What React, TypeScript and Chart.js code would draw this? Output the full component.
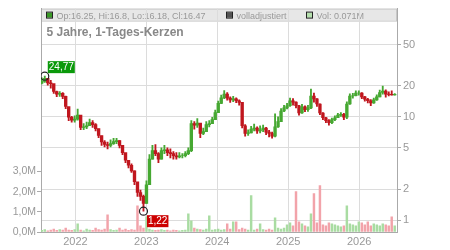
import React, { useEffect, useRef } from "react";
import { Chart, registerables } from "chart.js";

Chart.register(...registerables);

// ---- data (semi-monthly candles) ----
const firstCandleDate = "2021-07-12";
const candleStepDays = 15.4;
const firstOpen = 21.2;

const closes = [
  22.0, 23.6, 21.3, 21.0, 17.6, 16.6, 16.9, 15.8, 12.6, 9.9,
  9.3, 9.5, 10.4, 7.9, 8.0, 8.2, 8.8, 8.4, 7.7, 6.6,
  5.7, 5.4, 5.3, 5.5, 5.75, 5.9, 5.3, 4.5, 3.8, 3.4,
  3.0, 2.35, 1.85, 1.7, 1.45, 2.2, 3.9, 4.7, 4.4, 3.9,
  4.7, 4.8, 4.5, 4.4, 4.2, 4.1, 4.2, 4.2, 4.4, 4.7,
  8.6, 8.3, 8.7, 6.9, 7.2, 8.4, 8.6, 9.4, 11.0, 13.5,
  15.3, 16.6, 15.2, 14.6, 14.9, 14.3, 13.8, 8.2, 6.9, 7.0,
  7.6, 7.8, 7.3, 7.5, 7.8, 7.1, 6.9, 6.5, 8.0, 9.0,
  11.4, 12.2, 12.8, 14.3, 13.9, 12.8, 10.9, 12.5, 11.7, 12.2,
  15.9, 14.9, 13.3, 10.9, 9.8, 9.2, 8.8, 9.4, 9.8, 10.4,
  10.6, 9.9, 13.3, 15.9, 16.0, 17.0, 17.0, 15.6, 14.8, 14.3,
  13.6, 14.6, 15.6, 17.2, 17.8, 16.6, 16.5, 16.3, 16.47,
];

const highs = [
  23.8, 24.77, 23.5, 22.6, 19.5, 17.8, 17.6, 17.2, 15.9, 12.3,
  10.1, 10.2, 11.9, 9.6, 8.6, 8.9, 9.5, 9.2, 8.6, 7.6,
  6.5, 5.9, 5.7, 6.0, 6.2, 6.2, 5.9, 5.3, 4.4, 3.8,
  3.5, 3.0, 2.3, 1.95, 1.75, 2.4, 4.3, 5.3, 5.4, 4.5,
  5.0, 5.3, 5.0, 4.9, 4.6, 4.5, 4.5, 4.4, 4.6, 5.0,
  9.2, 9.0, 9.6, 8.5, 7.8, 9.0, 9.2, 9.9, 11.6, 14.2,
  16.2, 18.0, 17.2, 15.6, 15.8, 15.3, 14.6, 13.8, 8.4, 7.5,
  8.1, 8.5, 8.0, 8.2, 8.3, 7.9, 7.4, 7.1, 10.7, 10.0,
  12.0, 12.9, 13.5, 15.2, 15.0, 14.0, 12.9, 13.2, 12.8, 12.9,
  18.6, 17.0, 15.0, 13.4, 11.0, 9.9, 9.4, 9.7, 10.2, 10.8,
  11.0, 10.8, 14.0, 16.7, 16.9, 17.9, 17.9, 17.2, 15.8, 15.1,
  14.7, 15.2, 16.3, 18.2, 19.9, 18.3, 17.5, 17.9, 16.8,
];

const lows = [
  20.8, 21.5, 20.3, 19.0, 16.9, 15.7, 15.8, 15.0, 12.0, 9.2,
  8.9, 8.9, 9.3, 7.5, 7.5, 7.7, 8.2, 7.9, 7.3, 6.3,
  5.3, 5.1, 4.9, 5.1, 5.4, 5.5, 5.0, 4.3, 3.6, 3.2,
  2.9, 2.2, 1.7, 1.55, 1.22, 1.45, 2.3, 3.9, 4.2, 3.6,
  3.9, 4.4, 4.2, 4.0, 3.9, 3.9, 4.0, 4.0, 4.1, 4.3,
  4.6, 7.6, 7.9, 6.3, 6.7, 7.3, 8.0, 8.6, 9.5, 11.0,
  13.4, 15.0, 14.5, 13.8, 14.0, 13.7, 13.0, 7.8, 6.5, 6.6,
  7.0, 7.3, 6.9, 7.0, 7.2, 6.7, 6.4, 6.2, 6.4, 7.9,
  9.0, 11.2, 11.9, 12.6, 13.0, 12.2, 10.4, 10.8, 11.2, 11.3,
  12.0, 13.9, 12.6, 10.5, 9.4, 8.8, 8.3, 8.6, 9.2, 9.8,
  10.1, 9.4, 9.6, 13.2, 15.2, 15.9, 16.2, 15.0, 14.2, 13.6,
  12.8, 13.5, 14.4, 15.6, 16.6, 15.5, 15.9, 16.2, 16.18,
];

// volume in millions
const volumes = [
  0.08, 0.12, 0.06, 0.1, 0.15, 0.08, 0.12, 0.1, 0.2, 0.1,
  0.08, 0.12, 0.4, 0.1, 0.06, 0.15, 0.1, 0.08, 0.2, 0.12,
  0.1, 0.15, 0.85, 0.12, 0.08, 0.1, 0.2, 0.1, 0.15, 0.08,
  0.12, 0.1, 1.3, 0.3, 0.2, 0.75, 0.15, 0.1, 0.08, 0.1,
  0.12, 0.08, 0.1, 0.06, 0.1, 0.08, 0.06, 0.08, 0.1, 0.9,
  0.55, 0.2, 0.15, 0.12, 0.1, 0.15, 0.8, 0.1, 0.12, 0.15,
  0.1, 0.12, 0.4, 0.15, 0.5, 0.5, 0.12, 0.2, 0.15, 0.1,
  1.8, 0.1, 0.15, 0.4, 0.12, 0.1, 0.15, 0.1, 0.7, 0.2,
  0.15, 0.2, 0.35, 0.45, 0.3, 2.0, 0.5, 0.4, 0.3, 0.25,
  0.9, 1.9, 0.45, 2.3, 0.35, 0.3, 0.45, 0.4, 0.35, 0.3,
  0.25, 0.3, 1.3, 0.4, 0.35, 0.3, 0.5, 0.45, 0.35, 0.5,
  0.3, 0.4, 0.35, 0.3, 0.4, 0.35, 0.3, 0.75, 0.3,
];

const priceTicks = [1, 2, 5, 10, 20, 50];
const volumeTicks = [0, 1, 2, 3];
const yearTicks = [2022, 2023, 2024, 2025, 2026];
const axisStart = "2021-07-08";
const axisEnd = "2026-07-15";
const priceMin = 0.767;
const priceMax = 111.7;
const volumeMax = 11.07;

const titleText = "5 Jahre, 1-Tages-Kerzen";
const legendQuote = "Op:16.25, Hi:16.8, Lo:16.18, Cl:16.47";
const legendAdjusted = "volladjustiert";
const legendVolume = "Vol: 0.071M";

// ---- helpers ----
const DAY = 86400000;
const toDay = (s: string) => Date.parse(s + "T00:00:00Z") / DAY;
const dates = closes.map((_, i) => toDay(firstCandleDate) + i * candleStepDays);
const opens = closes.map((_, i) => (i === 0 ? firstOpen : closes[i - 1]));
const isUp = closes.map((c, i) => c >= opens[i]);

const UP = "#46a832";
const DOWN = "#c0161e";
const VOL_UP = "#a9dca2";
const VOL_DOWN = "#f2a3aa";
const FONT = "'Liberation Sans', Arial, sans-serif";

const fmtComma = (v: number) => v.toFixed(2).replace(".", ",");

export default function App() {
  const ref = useRef<HTMLCanvasElement | null>(null);

  useEffect(() => {
    if (!ref.current) return;
    let iMax = 0;
    let iMin = 0;
    highs.forEach((h, i) => { if (h > highs[iMax]) iMax = i; });
    lows.forEach((l, i) => { if (l < lows[iMin]) iMin = i; });

    const overlay = {
      id: "overlay",
      beforeDraw(chart: any) {
        const { ctx, chartArea: a } = chart;
        ctx.save();
        ctx.fillStyle = "#e7e7e7";
        ctx.fillRect(a.left, a.top, a.right - a.left, 12);
        ctx.strokeStyle = "#c8c8c8";
        ctx.lineWidth = 1;
        ctx.strokeRect(a.left + 0.5, a.top + 0.5, a.right - a.left - 1, 12);
        const items: [number, string, string][] = [
          [6, "#3a9a26", legendQuote],
          [186, "#555555", legendAdjusted],
          [266, "#b5e0ad", legendVolume],
        ];
        ctx.font = `9px ${FONT}`;
        ctx.textBaseline = "alphabetic";
        for (const [off, col, txt] of items) {
          const x = a.left + off;
          ctx.fillStyle = col;
          ctx.fillRect(x, a.top + 4, 5, 5);
          ctx.strokeStyle = "#222";
          ctx.strokeRect(x - 0.5, a.top + 3.5, 6, 6);
          ctx.fillStyle = "#999";
          ctx.fillText(txt, x + 9.5, a.top + 10.5);
        }
        ctx.restore();
      },
      afterDatasetsDraw(chart: any) {
        const { ctx } = chart;
        const xs = chart.scales.x;
        const ys = chart.scales.y;
        ctx.save();
        ctx.font = `10px ${FONT}`;
        ctx.textBaseline = "middle";
        const box = (px: number, top: number, txt: string, col: string) => {
          const w = ctx.measureText(txt).width + 2;
          ctx.fillStyle = col;
          ctx.fillRect(px, top, w, 12);
          ctx.fillStyle = "#fff";
          ctx.fillText(txt, px + 1, top + 6.5);
        };
        const mx = xs.getPixelForValue(dates[iMax]);
        const my = ys.getPixelForValue(highs[iMax]);
        box(mx + 3, my - 15, fmtComma(highs[iMax]), "#0a990a");
        const nx = xs.getPixelForValue(dates[iMin]);
        const ny = ys.getPixelForValue(lows[iMin]);
        box(nx + 3.5, ny + 4, fmtComma(lows[iMin]), "#cc0000");
        ctx.restore();
      },
      afterDraw(chart: any) {
        const { ctx, chartArea: a } = chart;
        ctx.save();
        ctx.font = `bold 12px ${FONT}`;
        ctx.fillStyle = "#888";
        ctx.textBaseline = "alphabetic";
        ctx.fillText(titleText, a.left + 5.5, a.top + 27);
        ctx.restore();
      },
    };

    const candleColors = isUp.map((u) => (u ? UP : DOWN));

    const chart = new Chart(ref.current, {
      type: "bar",
      data: {
        datasets: [
          {
            type: "scatter",
            data: [
              { x: dates[iMax], y: highs[iMax] },
              { x: dates[iMin], y: lows[iMin] },
            ],
            yAxisID: "y",
            pointRadius: 4,
            pointBorderWidth: 1.2,
            pointBorderColor: "#222",
            pointBackgroundColor: "rgba(255,255,255,0)",
            order: 0,
          } as any,
          {
            // candle bodies: open..close
            data: closes.map((c, i) => ({ x: dates[i], y: [opens[i], c] })),
            yAxisID: "y",
            backgroundColor: candleColors,
            barThickness: 2.7,
            grouped: false,
            order: 1,
          } as any,
          {
            // wicks: low..high
            data: closes.map((_, i) => ({ x: dates[i], y: [lows[i], highs[i]] })),
            yAxisID: "y",
            backgroundColor: candleColors,
            barThickness: 1.2,
            grouped: false,
            order: 2,
          } as any,
          {
            data: volumes.map((v, i) => ({ x: dates[i], y: v })),
            yAxisID: "yv",
            backgroundColor: isUp.map((u) => (u ? VOL_UP : VOL_DOWN)),
            barThickness: 1.8,
            grouped: false,
            order: 3,
          } as any,
        ],
      },
      options: {
        animation: false,
        responsive: false,
        events: [],
        layout: { padding: { top: 7, left: 0, right: 0, bottom: 0 } },
        plugins: { legend: { display: false }, tooltip: { enabled: false } },
        scales: {
          x: {
            type: "linear",
            min: toDay(axisStart),
            max: toDay(axisEnd),
            offset: false,
            grid: { color: "#dcdcdc", drawTicks: false, offset: false },
            border: { color: "#aaa" },
            ticks: {
              color: "#999",
              font: { size: 11, family: FONT },
              padding: 3,
              autoSkip: false,
              maxRotation: 0,
              callback: (v: any) => String(new Date(Number(v) * DAY).getUTCFullYear()),
            },
            afterBuildTicks: (s: any) => {
              s.ticks = yearTicks.map((y) => ({ value: Date.UTC(y, 0, 1) / DAY }));
            },
            afterFit: (s: any) => { s.height = 18; },
          },
          y: {
            type: "logarithmic",
            position: "right",
            min: priceMin,
            max: priceMax,
            grid: { color: "#dcdcdc", tickColor: "#aaa", tickLength: 4 },
            border: { color: "#aaa" },
            ticks: {
              color: "#999",
              font: { size: 11, family: FONT },
              padding: 2,
              autoSkip: false,
              callback: (v: any) => String(v),
            },
            afterBuildTicks: (s: any) => {
              s.ticks = priceTicks.map((v) => ({ value: v }));
            },
            afterFit: (s: any) => { s.width = 53; },
          },
          yv: {
            type: "linear",
            position: "left",
            min: 0,
            max: volumeMax,
            grid: { drawOnChartArea: false, tickColor: "#aaa", tickLength: 4 },
            border: { color: "#aaa" },
            ticks: {
              color: "#999",
              font: { size: 10.5, family: FONT },
              padding: 1,
              autoSkip: false,
              callback: (v: any) => Number(v).toFixed(1).replace(".", ",") + "M",
            },
            afterBuildTicks: (s: any) => {
              s.ticks = volumeTicks.map((v) => ({ value: v }));
            },
            afterFit: (s: any) => { s.width = 41; },
          },
        },
      } as any,
      plugins: [overlay],
    });
    return () => chart.destroy();
  }, []);

  return (
    <div style={{ position: "fixed", left: 0, top: 0, width: 450, height: 250, background: "#fff" }}>
      <canvas ref={ref} width={450} height={250} style={{ display: "block" }} />
    </div>
  );
}
